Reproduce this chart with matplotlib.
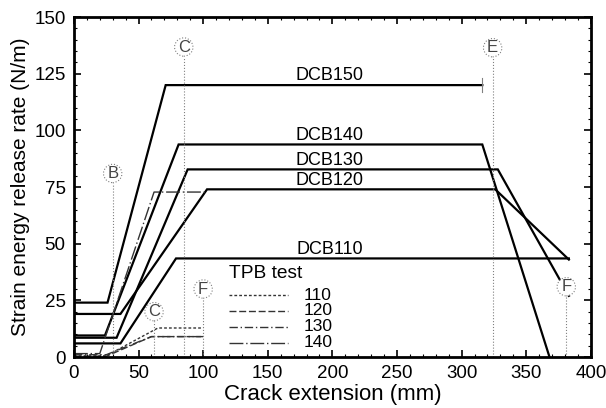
import numpy as np
import matplotlib
matplotlib.use("Agg")
import matplotlib.pyplot as plt

plt.rcParams["font.family"] = ["Liberation Sans", "DejaVu Sans"]

# DCB curves: crack extension (mm) vs strain energy release rate (N/m)
dcb_names = ["DCB150", "DCB140", "DCB130", "DCB120", "DCB110"]
dcb_x = [
    [0, 26, 71, 316],
    [0, 24, 81, 316, 368],
    [0, 33, 88, 328, 383],
    [0, 36, 103, 326, 383],
    [0, 36, 79, 383],
]
dcb_y = [
    [24, 24, 120, 120],
    [9.5, 9.5, 93.8, 93.8, 0],
    [8.5, 8.5, 82.8, 82.8, 27],
    [19, 19, 74, 74, 43],
    [6, 6, 43.5, 43.5],
]
dcb_label_y = [120, 93.8, 82.8, 74, 43.5]

# TPB tests
tpb_names = ["110", "120", "130", "140"]
tpb_x = [
    [0, 25, 65, 100],
    [0, 25, 60, 100],
    [0, 25, 60, 100],
    [0, 20, 62, 102],
]
tpb_y = [
    [0.5, 0.5, 12.8, 12.8],
    [0.3, 0.3, 9, 9],
    [1, 1, 9, 9],
    [1.5, 1.5, 72.8, 72.8],
]
tpb_styles = [(0, (2, 1.5)), (0, (5, 2)), (0, (6, 2, 1, 2)), (0, (10, 2, 1, 2))]

# stage markers
mark_names = ["B", "C", "E", "F", "C", "F"]
mark_x = [30, 85, 324, 381, 62, 100]
mark_top = [77, 132, 132, 27, 16, 26]
mark_lab = [81, 136.8, 136.5, 31, 20, 30]

fig = plt.figure(figsize=(6.06, 4.08), dpi=100)
ax = fig.add_axes([0.122, 0.125, 0.853, 0.833])

for x, y in zip(dcb_x, dcb_y):
    ax.plot(x, y, color="black", lw=1.6, solid_joinstyle="miter")
ax.plot([316, 316], [117, 123], color="gray", lw=0.8)

for name, ly in zip(dcb_names, dcb_label_y):
    ax.text(198, ly + 0.3, name, ha="center", va="bottom", fontsize=13)

for x, y, ls in zip(tpb_x, tpb_y, tpb_styles):
    ax.plot(x, y, color="#333333", lw=1.0, linestyle=ls)

for name, x, top, ly in zip(mark_names, mark_x, mark_top, mark_lab):
    ax.plot([x, x], [0, top], color="gray", lw=0.8, linestyle=":")
    ax.text(x, ly, name, ha="center", va="center", fontsize=12, color="#444444",
            bbox=dict(boxstyle="circle,pad=0.1", fc="white", ec="gray", ls=":", lw=0.8))

# legend drawn by hand
ax.text(120, 36.8, "TPB test", ha="left", va="center", fontsize=13.8)
leg_y = [27.3, 20.4, 13.3, 6.2]
for name, ly, ls in zip(tpb_names, leg_y, tpb_styles):
    ax.plot([120, 166], [ly, ly], color="#333333", lw=1.0, linestyle=ls)
    ax.text(178, ly, name, ha="left", va="center", fontsize=12.5)

ax.set_xlim(0, 400)
ax.set_ylim(0, 150)
ax.set_xticks(np.arange(0, 401, 50))
ax.set_yticks(np.arange(0, 151, 25))
ax.set_xticks(np.arange(0, 401, 10), minor=True)
ax.set_yticks(np.arange(0, 151, 5), minor=True)
ax.tick_params(which="both", direction="in", top=True, right=True, labelsize=13.5)
ax.tick_params(which="major", length=5, width=1.2, pad=6)
ax.tick_params(which="minor", length=2.5, width=0.8)
for s in ax.spines.values():
    s.set_linewidth(2)

ax.set_xlabel("Crack extension (mm)", fontsize=16, labelpad=1)
ax.set_ylabel("Strain energy release rate (N/m)", fontsize=15, labelpad=3)

fig.savefig("out.png", dpi=100)
